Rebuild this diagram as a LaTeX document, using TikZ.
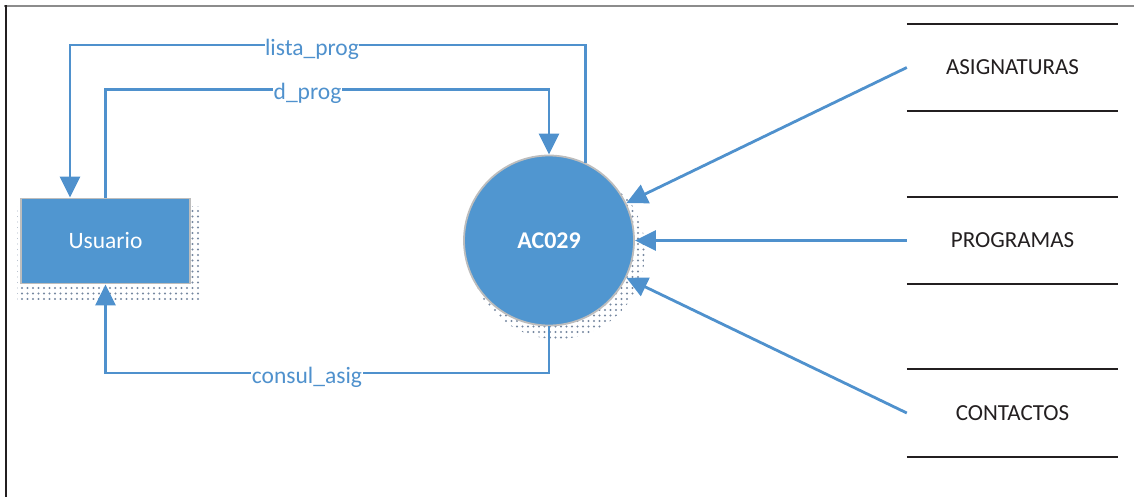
\documentclass[tikz,border=0pt]{standalone}
\usepackage{fontspec}
\setmainfont{Carlito}
\usetikzlibrary{arrows.meta,patterns.meta,calc}
\definecolor{dfdblue}{HTML}{5096D0}
\definecolor{flowblue}{HTML}{4F91CD}
\definecolor{rimgray}{HTML}{BDBDBD}
\definecolor{dotgray}{HTML}{7688A0}
\definecolor{inkdark}{HTML}{231F20}
\begin{document}
\begin{tikzpicture}[x=1pt,y=-1pt,
  flow/.style={draw=flowblue,line width=2.8pt},
  tip/.style={-{Triangle[length=21pt,width=20pt]}},
  flowlabel/.style={fill=white,text=flowblue,font=\fontsize{23.5}{26}\selectfont,inner xsep=0.5pt,inner ysep=1pt,anchor=base},
  entity/.style={rectangle,fill=dfdblue,draw=rimgray,line width=1.8pt,minimum width=169pt,minimum height=85pt,inner sep=0pt,text=white,font=\fontsize{23.5}{26}\selectfont},
  process/.style={circle,fill=dfdblue,draw=rimgray,line width=1.8pt,minimum size=170pt,inner sep=0pt,text=white,font=\bfseries\fontsize{24}{28}\selectfont},
  store/.style={minimum width=211pt,minimum height=87pt,inner sep=0pt,text=inkdark,font=\fontsize{23}{26}\selectfont},
  storeline/.style={draw=inkdark,line width=2pt},
  stipple/.style={pattern={Dots[distance=5.5pt,radius=1.1pt]},pattern color=dotgray}
]
\useasboundingbox (0,0) rectangle (1134,497);
% frame
\draw[draw=black!45,line width=1.5pt] (4,6) -- (1134,6);
\draw[draw=inkdark,line width=2pt] (6,5.5) -- (6,497);

% shadows
\fill[stipple] (17,206) rectangle (201,299);
\fill[stipple] (557,251) circle[radius=88];

% nodes
\node[entity] (usr) at (105.5,241) {Usuario};
\node[process] (ac) at (549,240.5) {AC029};

\node[store] (st1) at (1012.5,67.5) {ASIGNATURAS};
\node[store] (st2) at (1012.5,240.5) {PROGRAMAS};
\node[store] (st3) at (1012.5,413) {CONTACTOS};
\foreach \s in {st1,st2,st3}{
  \draw[storeline] (\s.north west) -- (\s.north east);
  \draw[storeline] (\s.south west) -- (\s.south east);
}

% flows
\draw[flow,tip] (ac.65) -- (ac.65 |- 0,45) -| ($(usr.north)+(-35.5,0)$);
\draw[flow,tip] (usr.north) -- (usr.north |- 0,89.5) -| (ac.north);
\draw[flow,tip] (ac.south) -- (ac.south |- 0,373) -| (usr.south);

\draw[flow,tip] (st1.west) -- (ac);
\draw[flow,tip] (st2.west) -- (ac);
\draw[flow,tip] (st3.west) -- (ac);

% labels
\node[flowlabel] (l1) at (312,56) {lista\_prog};
\node[flowlabel] (l2) at (307.5,99.5) {d\_prog};
\node[flowlabel] (l3) at (307,383) {consul\_asig};
\end{tikzpicture}
\end{document}
